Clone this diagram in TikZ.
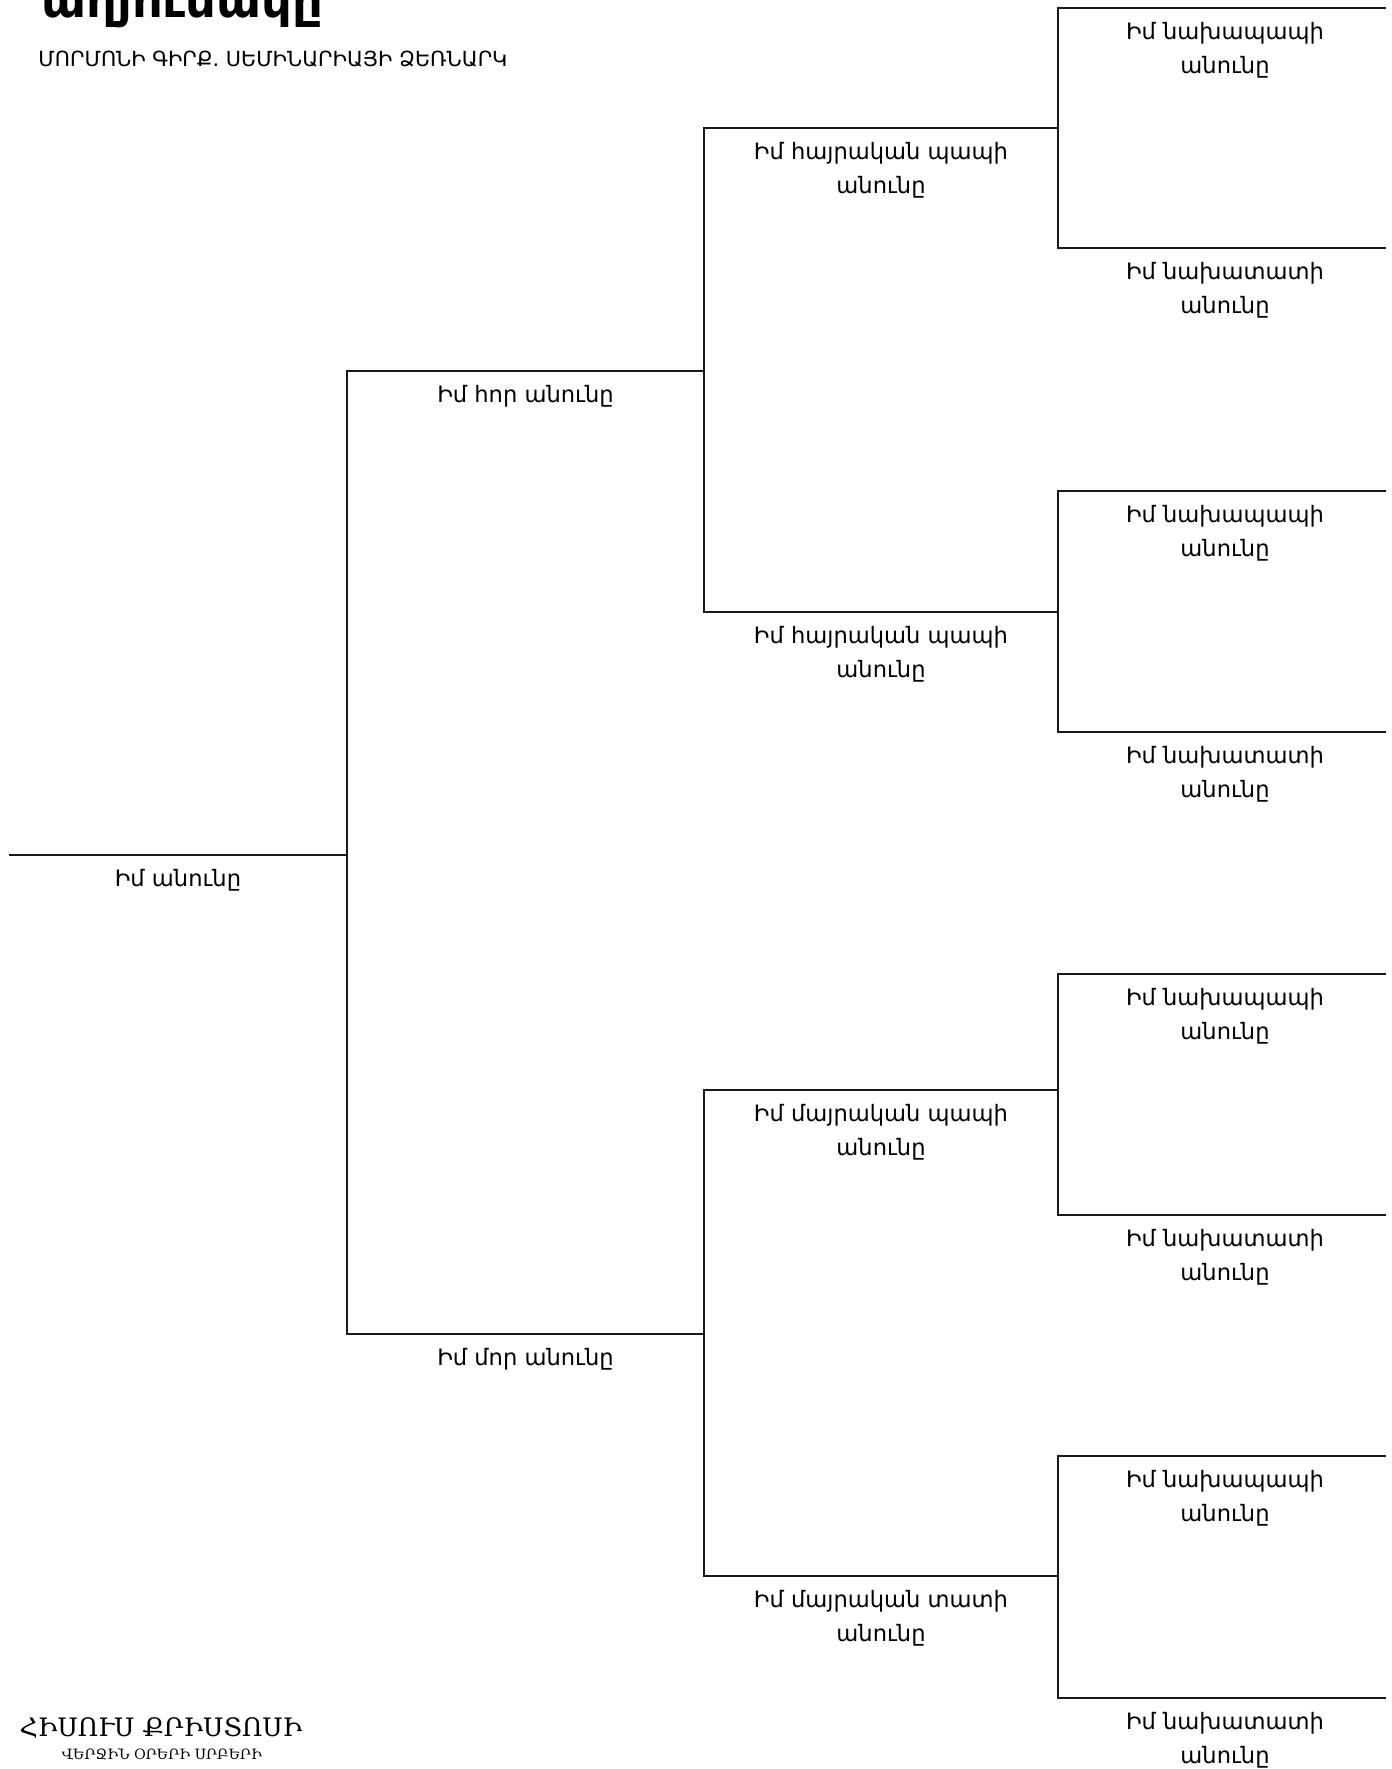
\documentclass[tikz,border=0pt]{standalone}
\usepackage{fontspec}
\setmainfont{DejaVu Sans}
\newfontfamily\logofont{DejaVu Serif}
\usetikzlibrary{calc,positioning}

\begin{document}
\begin{tikzpicture}[
  x=0.5pt, y=-0.5pt,
  branch/.style={draw=black!90, line width=0.7pt},
  lbl/.style={font=\fontsize{11.3}{17}\selectfont, align=center, anchor=north, inner sep=0pt, yshift=-6.8pt},
  heading/.style={font=\fontsize{24}{28}\selectfont\bfseries, anchor=base west, inner sep=0pt},
  subheading/.style={font=\fontsize{10.4}{12}\selectfont, anchor=base west, inner sep=0pt},
  logo/.style={font=\logofont\fontsize{12.7}{14}\selectfont, anchor=base, inner sep=0pt},
  logosmall/.style={font=\logofont\fontsize{7.1}{9}\selectfont, anchor=base, inner sep=0pt}
]
\useasboundingbox (0,0) rectangle (1392,1769);
\clip (0,0) rectangle (1392,1769);

% Header
\node[heading] (title) at (41,17) {աղյուսակը};
\node[subheading] (subtitle) at (38,66) {ՄՈՐՄՈՆԻ ԳԻՐՔ. ՍԵՄԻՆԱՐԻԱՅԻ ՁԵՌՆԱՐԿ};

% Me
\coordinate (me-l) at (9,855);
\coordinate (me-r) at (347,855);

% Parents
\coordinate (fa-l) at (347,371);
\coordinate (fa-r) at (704,371);
\coordinate (mo-l) at (347,1334);
\coordinate (mo-r) at (704,1334);

% Grandparents
\coordinate (pgf-l) at (704,128);
\coordinate (pgf-r) at (1058,128);
\coordinate (pgm-l) at (704,612);
\coordinate (pgm-r) at (1058,612);
\coordinate (mgf-l) at (704,1090);
\coordinate (mgf-r) at (1058,1090);
\coordinate (mgm-l) at (704,1576);
\coordinate (mgm-r) at (1058,1576);

% Great-grandparents
\coordinate (gg1-l) at (1058,8);
\coordinate (gg1-r) at (1386,8);
\coordinate (gg2-l) at (1058,248);
\coordinate (gg2-r) at (1386,248);
\coordinate (gg3-l) at (1058,491);
\coordinate (gg3-r) at (1386,491);
\coordinate (gg4-l) at (1058,732);
\coordinate (gg4-r) at (1386,732);
\coordinate (gg5-l) at (1058,974);
\coordinate (gg5-r) at (1386,974);
\coordinate (gg6-l) at (1058,1215);
\coordinate (gg6-r) at (1386,1215);
\coordinate (gg7-l) at (1058,1456);
\coordinate (gg7-r) at (1386,1456);
\coordinate (gg8-l) at (1058,1698);
\coordinate (gg8-r) at (1386,1698);

% Lines
\draw[branch] (me-l) -- (me-r);
\draw[branch] (fa-r) -- (fa-l) -- (mo-l) -- (mo-r);
\draw[branch] (pgf-r) -- (pgf-l) -- (pgm-l) -- (pgm-r);
\draw[branch] (mgf-r) -- (mgf-l) -- (mgm-l) -- (mgm-r);
\draw[branch] (gg1-r) -- (gg1-l) -- (gg2-l) -- (gg2-r);
\draw[branch] (gg3-r) -- (gg3-l) -- (gg4-l) -- (gg4-r);
\draw[branch] (gg5-r) -- (gg5-l) -- (gg6-l) -- (gg6-r);
\draw[branch] (gg7-r) -- (gg7-l) -- (gg8-l) -- (gg8-r);

% Names
\node[lbl] (me-name) at ($(me-l)!0.5!(me-r)$) {Իմ անունը};
\node[lbl] (fa-name) at ($(fa-l)!0.5!(fa-r)$) {Իմ հոր անունը};
\node[lbl] (mo-name) at ($(mo-l)!0.5!(mo-r)$) {Իմ մոր անունը};
\node[lbl] (pgf-name) at ($(pgf-l)!0.5!(pgf-r)$) {Իմ հայրական պապի\\անունը};
\node[lbl] (pgm-name) at ($(pgm-l)!0.5!(pgm-r)$) {Իմ հայրական պապի\\անունը};
\node[lbl] (mgf-name) at ($(mgf-l)!0.5!(mgf-r)$) {Իմ մայրական պապի\\անունը};
\node[lbl] (mgm-name) at ($(mgm-l)!0.5!(mgm-r)$) {Իմ մայրական տատի\\անունը};
\node[lbl, xshift=1.5pt] (gg1-name) at ($(gg1-l)!0.5!(gg1-r)$) {Իմ նախապապի\\անունը};
\node[lbl, xshift=1.5pt] (gg2-name) at ($(gg2-l)!0.5!(gg2-r)$) {Իմ նախատատի\\անունը};
\node[lbl, xshift=1.5pt] (gg3-name) at ($(gg3-l)!0.5!(gg3-r)$) {Իմ նախապապի\\անունը};
\node[lbl, xshift=1.5pt] (gg4-name) at ($(gg4-l)!0.5!(gg4-r)$) {Իմ նախատատի\\անունը};
\node[lbl, xshift=1.5pt] (gg5-name) at ($(gg5-l)!0.5!(gg5-r)$) {Իմ նախապապի\\անունը};
\node[lbl, xshift=1.5pt] (gg6-name) at ($(gg6-l)!0.5!(gg6-r)$) {Իմ նախատատի\\անունը};
\node[lbl, xshift=1.5pt] (gg7-name) at ($(gg7-l)!0.5!(gg7-r)$) {Իմ նախապապի\\անունը};
\node[lbl, xshift=1.5pt] (gg8-name) at ($(gg8-l)!0.5!(gg8-r)$) {Իմ նախատատի\\անունը};

% Church logo
\node[logo] (church) at (161,1736) {ՀԻՍՈՒՍ ՔՐԻՍՏՈՍԻ};
\node[logosmall] (saints) at (162,1759) {ՎԵՐՋԻՆ ՕՐԵՐԻ ՍՐԲԵՐԻ};

\end{tikzpicture}
\end{document}
